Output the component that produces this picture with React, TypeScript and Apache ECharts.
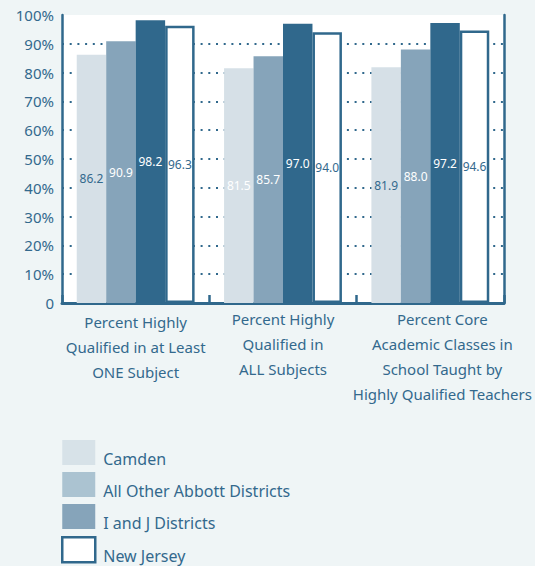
import React, { useEffect, useRef } from "react";
import * as echarts from "echarts";

const categories = [
  "Percent Highly\nQualified in at Least\nONE Subject",
  "Percent Highly\nQualified in\nALL Subjects",
  "Percent Core\nAcademic Classes in\nSchool Taught by\nHighly Qualified Teachers",
];
const seriesNames = ["Camden", "All Other Abbott Districts", "I and J Districts", "New Jersey"];
const camden = [86.2, 81.5, 81.9];
const otherAbbott = [90.9, 85.7, 88.0];
const iAndJ = [98.2, 97.0, 97.2];
const newJersey = [96.3, 94.0, 94.6];

const DARK = "#30688c";
const TEXT = "#33698d";
const FONT = "'Noto Sans', sans-serif";
const camdenLabelColors = [TEXT, "#ffffff", TEXT];
const barColors = ["#d6e0e7", "#86a4ba", DARK, "#ffffff"];
const legendColors = ["#d7e2e8", "#abc3d1", "#86a4ba", "#ffffff"];
// swatch 33x25 drawn at top of a 33x37 icon box so text sits lower than swatch
const LEGEND_ICON = "path://M0,0L33,0L33,25L0,25Z M0,37L0,37";

export default function App() {
  const ref = useRef<HTMLDivElement>(null);
  useEffect(() => {
    if (!ref.current) return;
    const chart = echarts.init(ref.current, undefined, { renderer: "svg" });
    const labelBase = {
      show: true,
      position: "inside",
      fontFamily: FONT,
      fontSize: 12,
      fontWeight: "normal",
      formatter: (p: any) => Number(p.value).toFixed(1),
    };
    const valuesList = [camden, otherAbbott, iAndJ, newJersey];
    const labelColors = ["", "#ffffff", "#ffffff", TEXT];
    const series = valuesList.map((vals, si) => ({
      name: seriesNames[si],
      type: "bar",
      barGap: "0%",
      barCategoryGap: "20%",
      itemStyle:
        si === 3
          ? { color: "#ffffff", borderColor: DARK, borderWidth: 2.5 }
          : { color: barColors[si] },
      label: { ...labelBase, color: labelColors[si] || TEXT },
      data: vals.map((v, i) =>
        si === 0 ? { value: v, label: { color: camdenLabelColors[i] } } : v
      ),
    }));
    const splitColors = Array.from({ length: 11 }, (_, i) => (i === 10 ? "transparent" : DARK));
    chart.setOption({
      animation: false,
      backgroundColor: "#eff5f6",
      grid: {
        left: 62,
        right: 31,
        top: 15,
        bottom: 263,
        show: true,
        backgroundColor: "#ffffff",
        borderWidth: 0,
      },
      legend: {
        orient: "vertical",
        left: 61,
        top: 440,
        height: 200,
        padding: 0,
        itemWidth: 33,
        itemHeight: 37,
        itemGap: -5,
        selectedMode: false,
        icon: LEGEND_ICON,
        textStyle: {
          fontFamily: FONT,
          fontSize: 16,
          lineHeight: 16,
          color: TEXT,
          padding: [0, 0, 0, 3],
        },
        data: seriesNames.map((n, i) => ({
          name: n,
          itemStyle:
            i === 3
              ? { color: "#ffffff", borderColor: DARK, borderWidth: 2.5 }
              : { color: legendColors[i], borderWidth: 0 },
        })),
      },
      xAxis: {
        type: "category",
        data: categories.map((c, i) => ({
          value: c,
          textStyle:
            i === 0
              ? { padding: [3, 0, 0, 0] }
              : i === 2
              ? { padding: [0, 0, 0, 24] }
              : {},
        })),
        axisLine: { show: true, lineStyle: { color: DARK, width: 3 } },
        axisTick: { show: true, inside: true, length: 8, lineStyle: { color: DARK, width: 2.5 } },
        axisLabel: {
          interval: 0,
          margin: 3,
          fontFamily: FONT,
          fontSize: 15,
          lineHeight: 25,
          color: TEXT,
        },
      },
      yAxis: [
        {
          type: "value",
          min: 0,
          max: 100,
          interval: 10,
          axisLine: { show: true, lineStyle: { color: DARK, width: 2.5 } },
          axisTick: { show: false },
          axisLabel: {
            margin: 8,
            fontFamily: FONT,
            fontSize: 15,
            color: TEXT,
            padding: [6, 0, 0, 0],
            formatter: (v: number) => (v === 0 ? "0" : v + "%"),
          },
          splitLine: {
            show: true,
            lineStyle: { color: splitColors, width: 2, type: [2, 5.7] },
          },
        },
        {
          type: "value",
          position: "right",
          min: 0,
          max: 100,
          interval: 10,
          axisLine: { show: true, lineStyle: { color: DARK, width: 2.5 } },
          axisTick: { show: false },
          axisLabel: { show: false },
          splitLine: { show: false },
        },
      ],
      series,
    });
    return () => chart.dispose();
  }, []);
  return (
    <div
      ref={ref}
      style={{ position: "absolute", left: 0, top: 0, width: 535, height: 566 }}
    />
  );
}
